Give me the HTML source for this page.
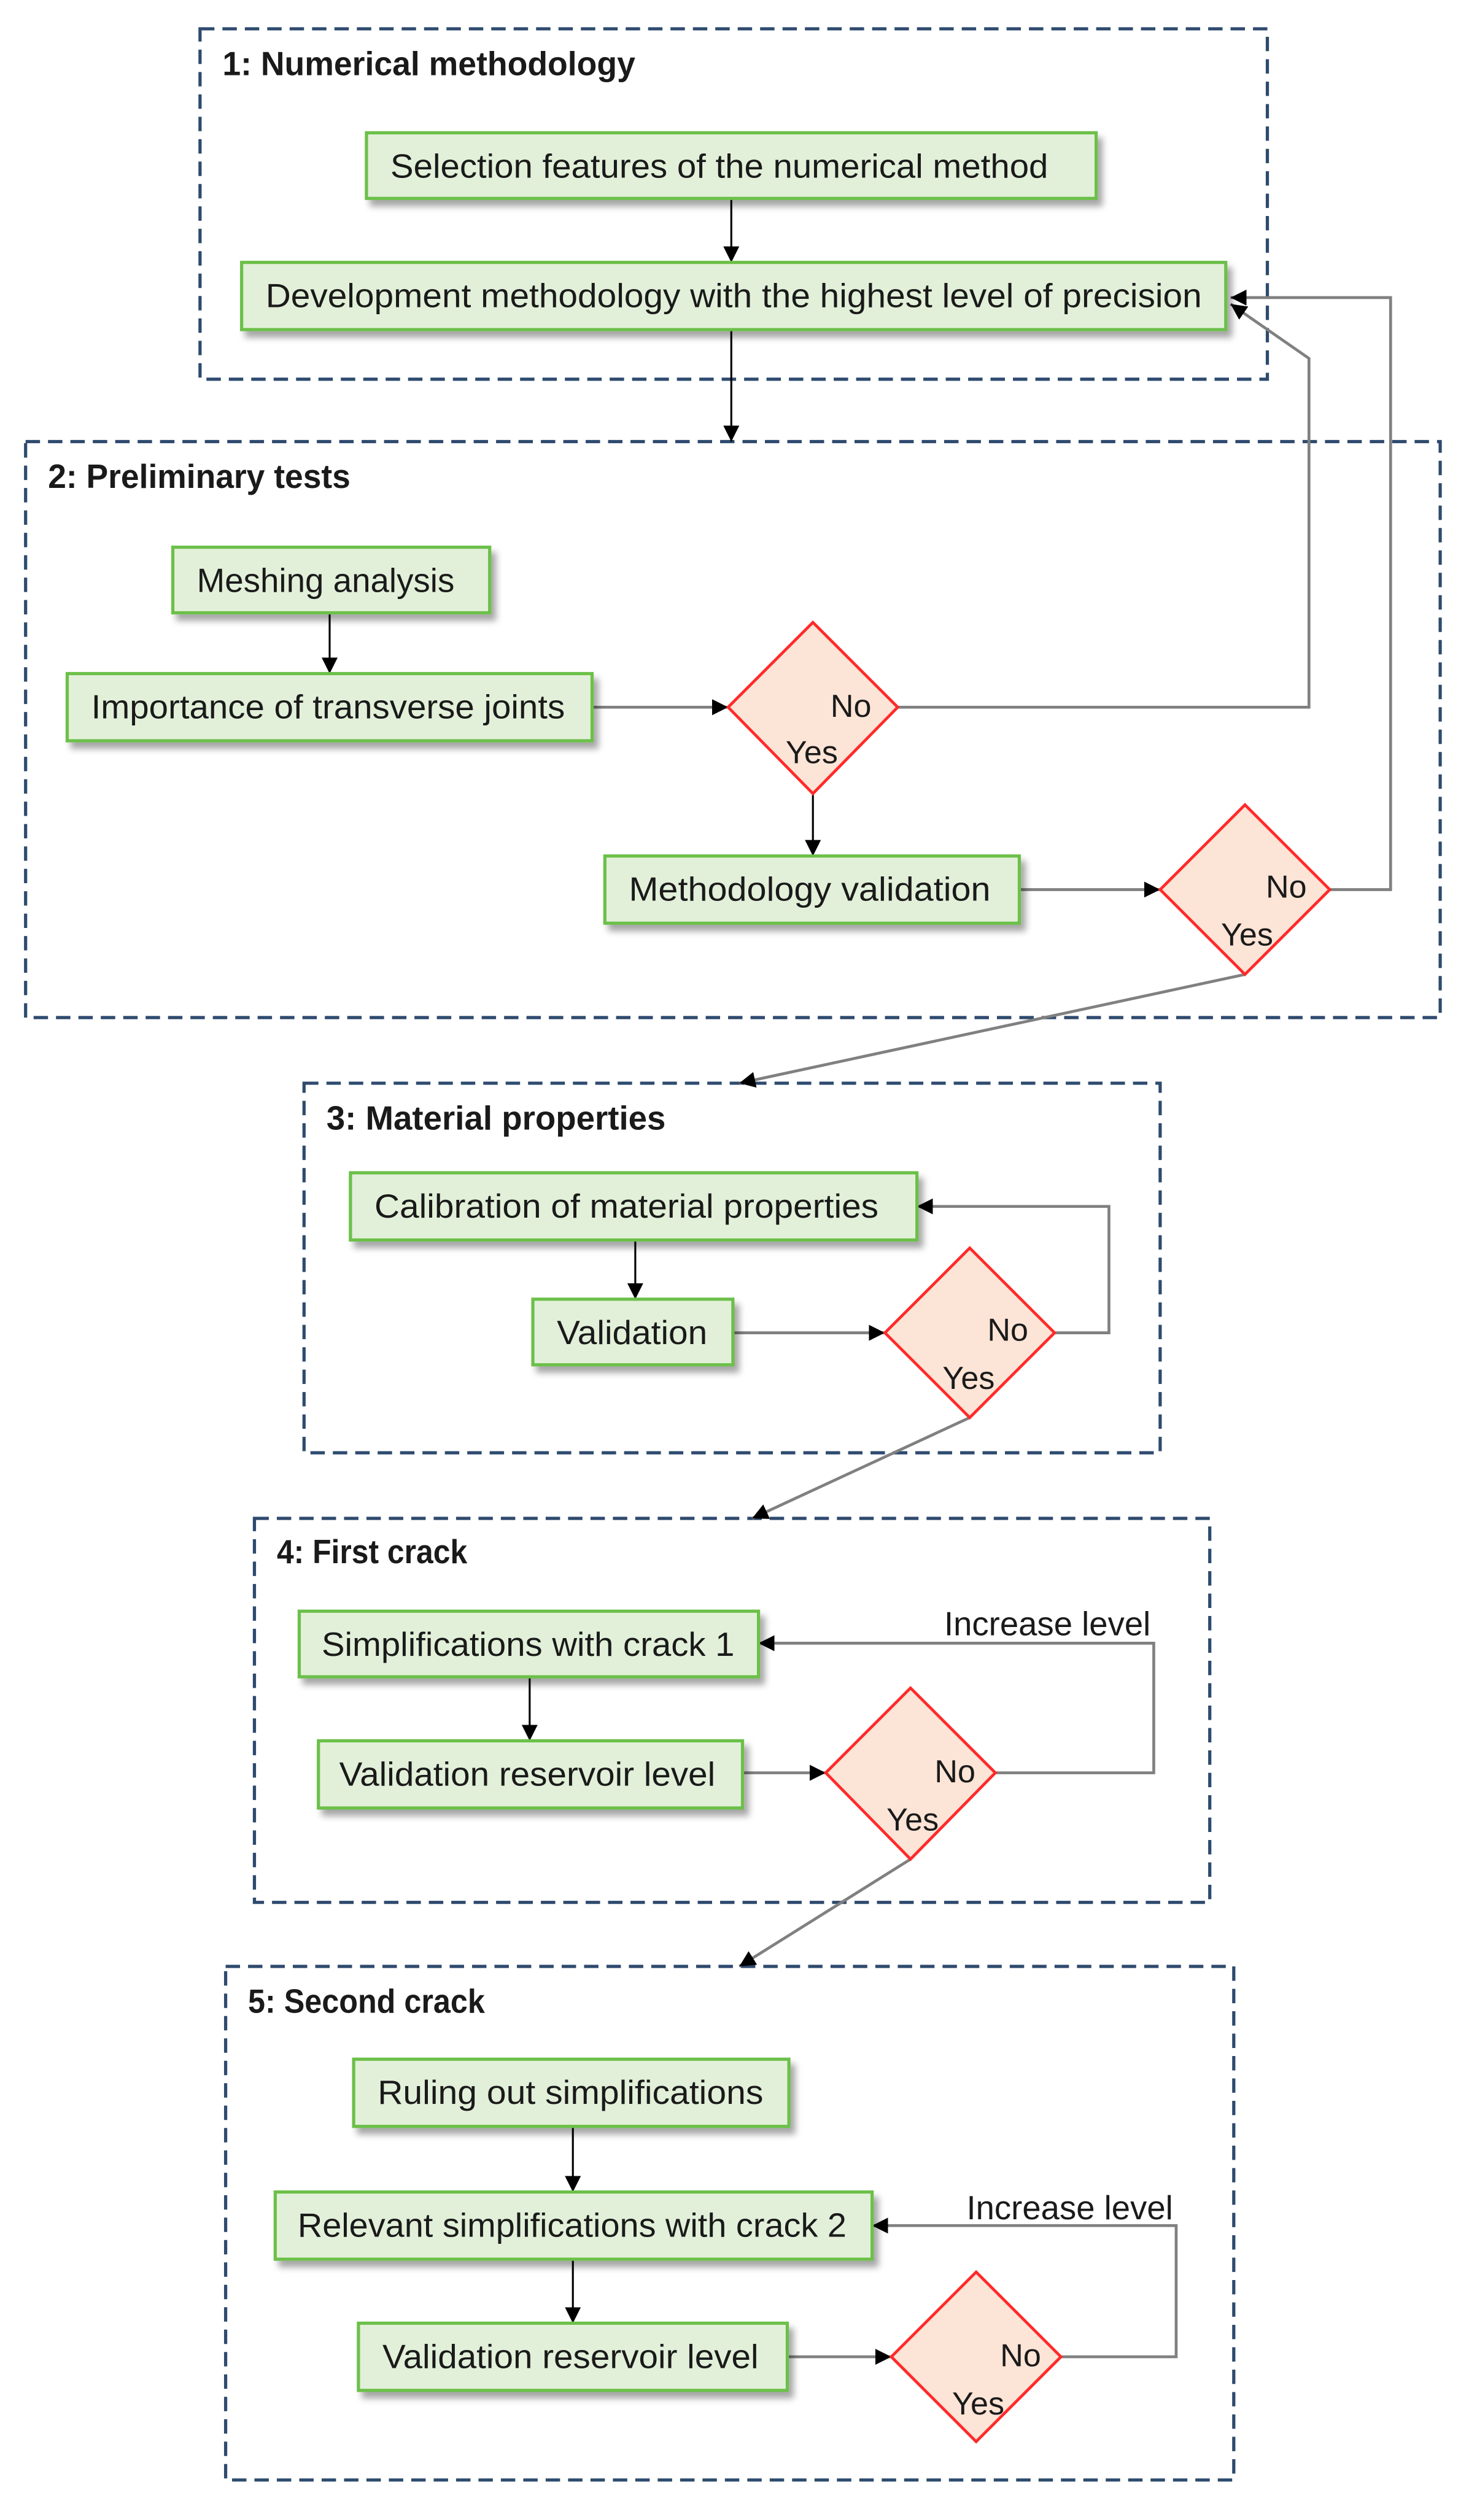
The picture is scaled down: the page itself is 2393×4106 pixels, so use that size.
<!DOCTYPE html>
<html><head><meta charset="utf-8"><style>
html,body{margin:0;padding:0;background:#fff;}
svg{display:block;}
text{font-family:"Liberation Sans Narrow","Liberation Sans",sans-serif;fill:#1a1a1a;}
.t{font-size:21px;}
.h{font-size:21px;font-weight:bold;}
.yn{font-size:20px;}
</style></head><body>
<svg width="2393" height="4106" viewBox="0 0 918 1575" preserveAspectRatio="none" xmlns="http://www.w3.org/2000/svg">
<defs>
<filter id="sh" x="-10%" y="-20%" width="130%" height="160%">
<feDropShadow dx="3" dy="4" stdDeviation="2" flood-color="#000" flood-opacity="0.35"/>
</filter>
<marker id="ar" viewBox="0 0 10 10" refX="10" refY="5" markerWidth="10" markerHeight="10" markerUnits="userSpaceOnUse" orient="auto">
<path d="M0,0 L10,5 L0,10 z" fill="#000"/>
</marker>
</defs>

<!-- dashed group boxes -->
<g fill="none" stroke="#2e4a6e" stroke-width="2" stroke-dasharray="9,5">
<rect x="125" y="18" width="667" height="219"/>
<rect x="16" y="276" width="884" height="360"/>
<rect x="190" y="677" width="535" height="231"/>
<rect x="159" y="949" width="597" height="240"/>
<rect x="141" y="1229" width="630" height="321"/>
</g>

<g class="h">
<text x="139" y="47" textLength="258" lengthAdjust="spacingAndGlyphs">1: Numerical methodology</text>
<text x="30" y="305" textLength="189" lengthAdjust="spacingAndGlyphs">2: Preliminary tests</text>
<text x="204" y="706" textLength="212" lengthAdjust="spacingAndGlyphs">3: Material properties</text>
<text x="173" y="977" textLength="119" lengthAdjust="spacingAndGlyphs">4: First crack</text>
<text x="155" y="1258" textLength="148" lengthAdjust="spacingAndGlyphs">5: Second crack</text>
</g>

<!-- connectors -->
<g fill="none" stroke="#000" stroke-width="1.2">
<line x1="457" y1="124" x2="457" y2="164" marker-end="url(#ar)"/>
<line x1="457" y1="206" x2="457" y2="276" marker-end="url(#ar)"/>
<line x1="206" y1="383" x2="206" y2="421" marker-end="url(#ar)"/>
<line x1="508" y1="496" x2="508" y2="535" marker-end="url(#ar)"/>
<line x1="397" y1="775" x2="397" y2="812" marker-end="url(#ar)"/>
<line x1="331" y1="1048" x2="331" y2="1088" marker-end="url(#ar)"/>
<line x1="358" y1="1329" x2="358" y2="1370" marker-end="url(#ar)"/>
<line x1="358" y1="1412" x2="358" y2="1452" marker-end="url(#ar)"/>
</g>
<g fill="none" stroke="#808080" stroke-width="1.8">
<line x1="370" y1="442" x2="455" y2="442" marker-end="url(#ar)"/>
<line x1="637" y1="556" x2="725" y2="556" marker-end="url(#ar)"/>
<line x1="458" y1="833" x2="553" y2="833" marker-end="url(#ar)"/>
<line x1="464" y1="1108" x2="516" y2="1108" marker-end="url(#ar)"/>
<line x1="492" y1="1473" x2="557" y2="1473" marker-end="url(#ar)"/>
<polyline points="561,442 818,442 818,224 769,190" marker-end="url(#ar)"/>
<polyline points="831,556 869,556 869,186 769,186" marker-end="url(#ar)"/>
<line x1="778" y1="609" x2="462" y2="677" marker-end="url(#ar)"/>
<polyline points="659,833 693,833 693,754 573,754" marker-end="url(#ar)"/>
<line x1="606" y1="886" x2="470" y2="949" marker-end="url(#ar)"/>
<polyline points="622,1108 721,1108 721,1027 474,1027" marker-end="url(#ar)"/>
<line x1="569" y1="1162" x2="462" y2="1229" marker-end="url(#ar)"/>
<polyline points="663,1473 735,1473 735,1391 545,1391" marker-end="url(#ar)"/>
</g>

<!-- process boxes -->
<g fill="#e2f0d9" stroke="#6cc04a" stroke-width="2" filter="url(#sh)">
<rect x="229" y="83" width="456" height="41"/>
<rect x="151" y="164" width="615" height="42"/>
<rect x="108" y="342" width="198" height="41"/>
<rect x="42" y="421" width="328" height="42"/>
<rect x="378" y="535" width="259" height="42"/>
<rect x="219" y="733" width="354" height="42"/>
<rect x="333" y="812" width="125" height="41"/>
<rect x="187" y="1007" width="287" height="41"/>
<rect x="199" y="1088" width="265" height="42"/>
<rect x="221" y="1287" width="272" height="42"/>
<rect x="172" y="1370" width="373" height="42"/>
<rect x="224" y="1452" width="268" height="42"/>
</g>

<!-- diamonds -->
<g fill="#fce4d6" stroke="#ff2a2a" stroke-width="1.8">
<polygon points="508,389 561,442 508,496 455,442"/>
<polygon points="778,503 831,556 778,609 725,556"/>
<polygon points="606,780 659,833 606,886 553,833"/>
<polygon points="569,1055 622,1108 569,1162 516,1108"/>
<polygon points="610,1420 663,1473 610,1526 557,1473"/>
</g>

<g class="t">
<text x="244" y="111" textLength="411" lengthAdjust="spacingAndGlyphs">Selection features of the numerical method</text>
<text x="166" y="192" textLength="585" lengthAdjust="spacingAndGlyphs">Development methodology with the highest level of precision</text>
<text x="123" y="370" textLength="161" lengthAdjust="spacingAndGlyphs">Meshing analysis</text>
<text x="57" y="449" textLength="296" lengthAdjust="spacingAndGlyphs">Importance of transverse joints</text>
<text x="393" y="563" textLength="226" lengthAdjust="spacingAndGlyphs">Methodology validation</text>
<text x="234" y="761" textLength="315" lengthAdjust="spacingAndGlyphs">Calibration of material properties</text>
<text x="348" y="840" textLength="94" lengthAdjust="spacingAndGlyphs">Validation</text>
<text x="201" y="1035" textLength="258" lengthAdjust="spacingAndGlyphs">Simplifications with crack 1</text>
<text x="212" y="1116" textLength="235" lengthAdjust="spacingAndGlyphs">Validation reservoir level</text>
<text x="236" y="1315" textLength="241" lengthAdjust="spacingAndGlyphs">Ruling out simplifications</text>
<text x="186" y="1398" textLength="343" lengthAdjust="spacingAndGlyphs">Relevant simplifications with crack 2</text>
<text x="239" y="1480" textLength="235" lengthAdjust="spacingAndGlyphs">Validation reservoir level</text>
<text x="590" y="1022" textLength="129" lengthAdjust="spacingAndGlyphs">Increase level</text>
<text x="604" y="1387" textLength="129" lengthAdjust="spacingAndGlyphs">Increase level</text>
</g>

<g class="yn">
<text x="519" y="448">No</text><text x="491" y="477">Yes</text>
<text x="791" y="561">No</text><text x="763" y="591">Yes</text>
<text x="617" y="838">No</text><text x="589" y="868">Yes</text>
<text x="584" y="1114">No</text><text x="554" y="1144">Yes</text>
<text x="625" y="1479">No</text><text x="595" y="1509">Yes</text>
</g>
</svg>
</body></html>
